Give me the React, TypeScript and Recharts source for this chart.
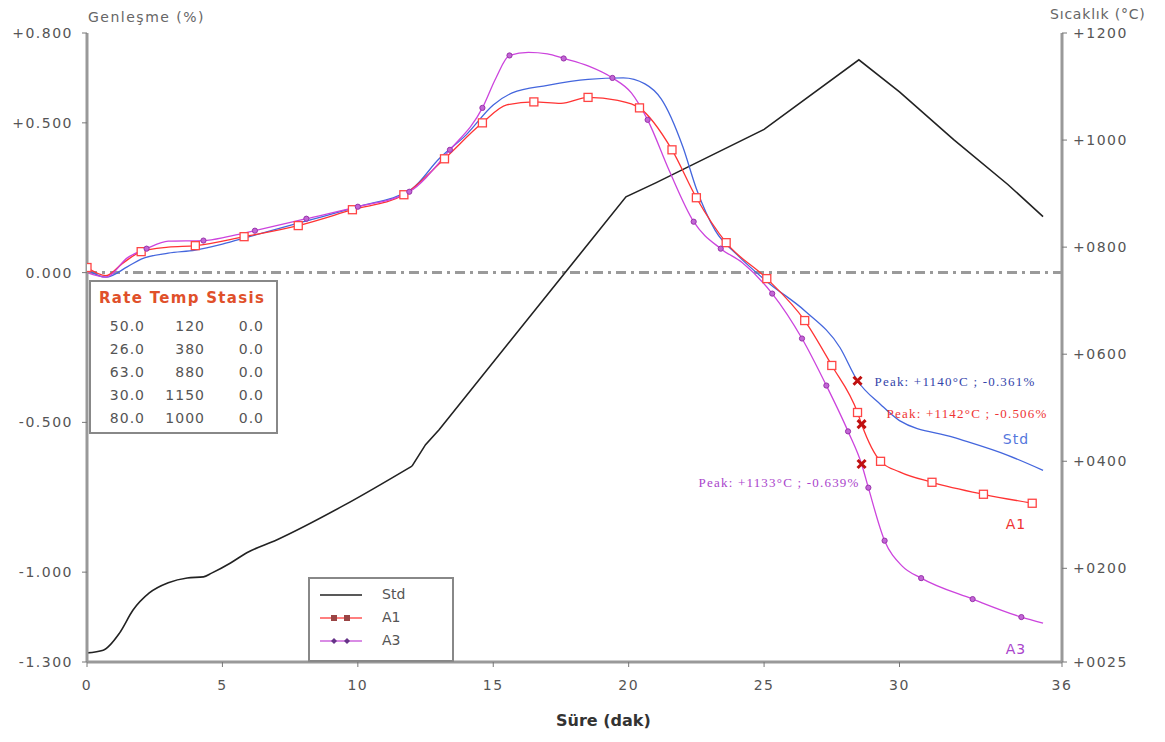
import React from "react";
import {
  ComposedChart,
  Line,
  XAxis,
  YAxis,
  ReferenceLine,
  ReferenceDot,
} from "recharts";

// [time (dak), expansion (%)]
const stdExpansion: [number, number][] = [
  [0, 0.01], [0.7, -0.015], [1.5, 0.02], [2, 0.045], [3, 0.065], [4, 0.075],
  [5, 0.095], [6, 0.12], [8, 0.17], [10, 0.22], [12, 0.28], [13, 0.38],
  [14, 0.46], [15, 0.56], [15.7, 0.6], [17, 0.625], [18.5, 0.645], [19.8, 0.65],
  [20.6, 0.63], [21.2, 0.58], [22, 0.42], [22.5, 0.28], [23.2, 0.14], [24, 0.06],
  [25.2, -0.037], [26.5, -0.127], [27.8, -0.25], [28.45, -0.361], [29.3, -0.44],
  [30, -0.494], [32, -0.55], [34, -0.61], [35.3, -0.66],
];

const a1Expansion: [number, number][] = [
  [0, 0.017], [0.7, -0.01], [1.3, 0.03], [2, 0.07], [3, 0.085], [4, 0.09],
  [5.8, 0.12], [7.8, 0.157], [9.8, 0.21], [11.7, 0.26], [13.2, 0.38],
  [14.6, 0.5], [15.5, 0.56], [16.5, 0.57], [17.5, 0.565], [18.5, 0.585],
  [19.6, 0.575], [20.4, 0.55], [21.6, 0.41], [22.5, 0.25], [23.6, 0.1],
  [25.1, -0.02], [26.5, -0.16], [27.5, -0.31], [28.45, -0.467], [28.6, -0.506],
  [29.3, -0.63], [30, -0.665], [31.2, -0.7], [33.1, -0.74], [34.9, -0.77],
];
const a1MarkerTimes = [
  0, 2, 4, 5.8, 7.8, 9.8, 11.7, 13.2, 14.6, 16.5, 18.5, 20.4, 21.6, 22.5, 23.6,
  25.1, 26.5, 27.5, 28.45, 29.3, 31.2, 33.1, 34.9,
];

const a3Expansion: [number, number][] = [
  [0, 0.0], [0.7, -0.015], [1.5, 0.05], [2.2, 0.08], [3, 0.105], [4.3, 0.107],
  [5.2, 0.12], [6.2, 0.14], [8.1, 0.18], [10, 0.22], [11.9, 0.27], [13.4, 0.41],
  [14.6, 0.55], [15.1, 0.65], [15.6, 0.725], [16.3, 0.735], [17, 0.73],
  [17.6, 0.715], [18.5, 0.69], [19.4, 0.65], [20.1, 0.6], [20.7, 0.51],
  [21.5, 0.34], [22.4, 0.17], [23.4, 0.08], [24.2, 0.033], [25.3, -0.07],
  [26.4, -0.22], [27.3, -0.377], [28.1, -0.53], [28.6, -0.639], [28.85, -0.718],
  [29.45, -0.895], [30.1, -0.98], [30.8, -1.02], [32.7, -1.09], [34.5, -1.15],
  [35.3, -1.17],
];
const a3MarkerTimes = [
  2.2, 4.3, 6.2, 8.1, 10, 11.9, 13.4, 14.6, 15.6, 17.6, 19.4, 20.7, 22.4, 23.4,
  25.3, 26.4, 27.3, 28.1, 28.85, 29.45, 30.8, 32.7, 34.5,
];

// [time (dak), temperature (°C)] – smooth start, then straight ramps
const stdTemperatureStart: [number, number][] = [
  [0, 42], [0.6, 47], [1.2, 79], [1.7, 122], [2.3, 154], [3, 173], [3.7, 182],
  [4.3, 184], [4.6, 191], [5.3, 210], [5.9, 229], [7, 253], [9.5, 318], [12, 391],
];
const stdTemperatureRest: [number, number][] = [
  [12, 391], [12.5, 431], [13, 459], [19.9, 894], [21, 920], [25, 1020],
  [28.5, 1150], [30, 1090], [32, 1001], [34, 917], [35.3, 857],
];

const peaks = [
  { name: "Std", t: 28.45, v: -0.361, text: "Peak: +1140°C ; -0.361%", color: "#3344aa", dx: 17, dy: 5, anchor: "start" },
  { name: "A1", t: 28.6, v: -0.506, text: "Peak: +1142°C ; -0.506%", color: "#ee3333", dx: 25, dy: -6, anchor: "start" },
  { name: "A3", t: 28.6, v: -0.639, text: "Peak: +1133°C ; -0.639%", color: "#aa44cc", dx: -2, dy: 23, anchor: "end" },
];

const seriesLabels = [
  { text: "Std", t: 34.3, v: -0.555, color: "#5577dd" },
  { text: "A1", t: 34.3, v: -0.84, color: "#ee3333" },
  { text: "A3", t: 34.3, v: -1.255, color: "#aa44cc" },
];

const rateTable = [
  ["50.0", "120", "0.0"],
  ["26.0", "380", "0.0"],
  ["63.0", "880", "0.0"],
  ["30.0", "1150", "0.0"],
  ["80.0", "1000", "0.0"],
];

const xTicks = [0, 5, 10, 15, 20, 25, 30, 36];
const leftTicks = [-1.3, -1, -0.5, 0, 0.5, 0.8];
const rightTicks = [25, 200, 400, 600, 800, 1000, 1200];

const toRows = (pts: [number, number][]) => pts.map(([t, v]) => ({ t, v }));

const fmtLeft = (v: number) => (v > 0 ? "+" : "") + v.toFixed(3);
const fmtRight = (v: number) => "+" + String(v).padStart(4, "0");

const sans = "'DejaVu Sans', Verdana, sans-serif";
const tickStyle = { fill: "#555", fontSize: 14, fontFamily: sans, letterSpacing: 1.5 };

function squareDot(times: number[]) {
  return (p: any) =>
    times.includes(p.payload.t) ? (
      <rect key={p.index} x={p.cx - 4} y={p.cy - 4} width={8} height={8}
        fill="#fff" stroke="#ff4444" strokeWidth={1.3} />
    ) : (
      <g key={p.index} />
    );
}

function roundDot(times: number[]) {
  return (p: any) =>
    times.includes(p.payload.t) ? (
      <circle key={p.index} cx={p.cx} cy={p.cy} r={2.6} fill="#c266d6" stroke="#9933aa" strokeWidth={1} />
    ) : (
      <g key={p.index} />
    );
}

export default function App() {
  return (
    <div style={{ position: "absolute", left: 0, top: 0, width: 1165, height: 742, background: "#fff" }}>
      <ComposedChart width={1165} height={742} margin={{ top: 33, right: 0, bottom: 50, left: 0 }}>
        <XAxis type="number" dataKey="t" domain={[0, 36]} ticks={xTicks}
          allowDataOverflow height={30} tick={tickStyle}
          axisLine={{ stroke: "#999", strokeWidth: 3 }} tickLine={{ stroke: "#777" }} tickSize={5} tickMargin={13} />
        <YAxis yAxisId="left" domain={[-1.3, 0.8]} ticks={leftTicks} width={87}
          tickFormatter={fmtLeft} tick={tickStyle} allowDataOverflow
          axisLine={{ stroke: "#999", strokeWidth: 3 }} tickLine={{ stroke: "#777" }} tickSize={5} tickMargin={9} />
        <YAxis yAxisId="right" orientation="right" domain={[25, 1200]} ticks={rightTicks} width={103}
          tickFormatter={fmtRight} tick={tickStyle} allowDataOverflow
          axisLine={{ stroke: "#999", strokeWidth: 3 }} tickLine={{ stroke: "#777" }} tickSize={5} tickMargin={6} />
        <ReferenceLine yAxisId="left" y={0} stroke="#9a9a9a" strokeWidth={3} strokeDasharray="10 5 3 5" />
        <Line yAxisId="right" data={toRows(stdTemperatureStart)} dataKey="v" type="monotone"
          stroke="#222" strokeWidth={1.6} dot={false} isAnimationActive={false} />
        <Line yAxisId="right" data={toRows(stdTemperatureRest)} dataKey="v" type="linear"
          stroke="#222" strokeWidth={1.6} dot={false} isAnimationActive={false} />
        <Line yAxisId="left" data={toRows(stdExpansion)} dataKey="v" type="monotone"
          stroke="#4466dd" strokeWidth={1.3} dot={false} isAnimationActive={false} />
        <Line yAxisId="left" data={toRows(a1Expansion)} dataKey="v" type="monotone"
          stroke="#ff3333" strokeWidth={1.3} dot={squareDot(a1MarkerTimes)} isAnimationActive={false} />
        <Line yAxisId="left" data={toRows(a3Expansion)} dataKey="v" type="monotone"
          stroke="#cc44dd" strokeWidth={1.3} dot={roundDot(a3MarkerTimes)} isAnimationActive={false} />
        {peaks.map((p) => (
          <ReferenceDot key={p.name} yAxisId="left" x={p.t} y={p.v}
            shape={(s: any) => (
              <g>
                <path d={`M${s.cx - 4},${s.cy - 4}L${s.cx + 4},${s.cy + 4}M${s.cx + 4},${s.cy - 4}L${s.cx - 4},${s.cy + 4}`}
                  stroke="#c01010" strokeWidth={3} />
                <text x={s.cx + p.dx} y={s.cy + p.dy} textAnchor={p.anchor as any} fill={p.color}
                  fontSize={13} letterSpacing={1.2} fontFamily="'Liberation Serif', serif">{p.text}</text>
              </g>
            )} />
        ))}
        {seriesLabels.map((l) => (
          <ReferenceDot key={l.text} yAxisId="left" x={l.t} y={l.v}
            shape={(s: any) => (
              <text x={s.cx} y={s.cy + 5} textAnchor="middle" fill={l.color} fontSize={14} letterSpacing={1}
                fontFamily={sans}>{l.text}</text>
            )} />
        ))}
      </ComposedChart>

      <div style={{ position: "absolute", left: 88, top: 9, color: "#666", fontSize: 14, letterSpacing: 1.5, fontFamily: sans }}>Genleşme (%)</div>
      <div style={{ position: "absolute", left: 1050, top: 6, color: "#666", fontSize: 14, letterSpacing: 0.8, fontFamily: sans }}>Sıcaklık (°C)</div>
      <div style={{ position: "absolute", left: 556, top: 711, color: "#333", fontSize: 16, fontWeight: "bold", fontFamily: sans }}>Süre (dak)</div>

      <div style={{ position: "absolute", left: 89, top: 280, width: 185, height: 150, border: "2px solid #888",
        background: "#fff", fontFamily: sans, fontSize: 14, letterSpacing: 1, color: "#555" }}>
        <div style={{ position: "absolute", left: 8, top: 7, color: "#e0502a", fontWeight: "bold", whiteSpace: "nowrap",
          fontSize: 15, letterSpacing: 1.3 }}>
          Rate Temp Stasis
        </div>
        {rateTable.map((row, i) => (
          <div key={i} style={{ position: "absolute", top: 36 + i * 23, left: 0, width: 185, height: 20 }}>
            <span style={{ position: "absolute", right: 185 - 54, textAlign: "right" }}>{row[0]}</span>
            <span style={{ position: "absolute", right: 185 - 114, textAlign: "right" }}>{row[1]}</span>
            <span style={{ position: "absolute", right: 185 - 173, textAlign: "right" }}>{row[2]}</span>
          </div>
        ))}
      </div>

      <div style={{ position: "absolute", left: 308, top: 577, width: 142, height: 81, border: "2px solid #888",
        background: "#fff", fontFamily: sans, fontSize: 14, color: "#555" }}>
        {[
          { name: "Std", color: "#222", marker: null },
          { name: "A1", color: "#ff5555", marker: "square" },
          { name: "A3", color: "#cc66dd", marker: "diamond" },
        ].map((it, i) => (
          <div key={it.name} style={{ position: "absolute", top: 6 + i * 23, left: 0, height: 20, width: 142 }}>
            <svg width={50} height={20} style={{ position: "absolute", left: 10, top: 0 }}>
              <line x1={0} y1={10} x2={42} y2={10} stroke={it.color} strokeWidth={1.3} />
              {it.marker === "square" && [14, 27].map((x) => (
                <rect key={x} x={x - 3} y={7} width={6} height={6} fill="#994444" />
              ))}
              {it.marker === "diamond" && [14, 27].map((x) => (
                <path key={x} d={`M${x},7L${x + 3},10L${x},13L${x - 3},10Z`} fill="#663388" />
              ))}
            </svg>
            <span style={{ position: "absolute", left: 72, top: 1 }}>{it.name}</span>
          </div>
        ))}
      </div>
    </div>
  );
}
